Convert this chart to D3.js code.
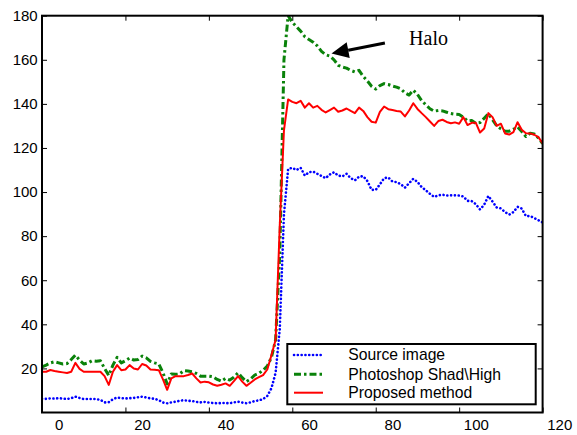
<!DOCTYPE html>
<html>
<head>
<meta charset="utf-8">
<script src="https://cdn.jsdelivr.net/npm/d3@7"></script>
<style>
  html, body { margin: 0; padding: 0; background: #fff; }
  svg { display: block; }
  text { font-family: "Liberation Sans", Arial, Helvetica, sans-serif; }
</style>
</head>
<body>
<svg id="chart" width="577" height="435"></svg>
<script>
// ---- data (x = sample index 0..120) ----
const seriesNames = ["Source image", "Photoshop Shad\\High", "Proposed method"];
const xTickValues = [0, 20, 40, 60, 80, 100, 120];
const yTickValues = [20, 40, 60, 80, 100, 120, 140, 160, 180];

const sourceImage = [
  6.2, 6.2, 6.4, 6.3, 6.5, 6.3, 6.1, 6.5, 7.2, 6.6,
  6.1, 6.1, 6.1, 6.1, 5.7, 4.6, 4.7, 6.0, 6.8, 6.5,
  6.4, 6.5, 6.6, 6.9, 7.2, 6.8, 6.4, 6.2, 5.6, 4.5,
  4.2, 4.6, 4.9, 5.3, 5.6, 5.3, 5.2, 4.8, 4.6, 4.8,
  4.5, 4.3, 4.2, 4.3, 4.3, 4.2, 4.6, 4.9, 4.5, 4.2,
  4.6, 5.2, 5.5, 6.1, 7.5, 11, 18, 38, 90, 110.5,
  111, 110, 111, 107.5, 109, 109.3, 108.3, 107.3, 106.3, 108,
  109, 107.5, 107.1, 108.3, 106.3, 105.3, 107, 107.2, 105, 101,
  101, 103.5, 106.3, 106.6, 104.8, 104.5, 103.6, 102, 104, 106,
  104.6, 102.3, 100.8, 99.2, 97.8, 98.5, 98.8, 98.4, 98.5, 98.5,
  98.4, 98, 96, 95.9, 94.5, 92.1, 94.3, 98.2, 95.7, 93,
  92.6, 90.9, 89.8, 90.9, 93.3, 92.5, 89.1, 89.1, 88.2, 87.2,
  86.2
];
const photoshop = [
  20.7, 21.5, 22.5, 23, 22.5, 22, 22.2, 24, 26, 23.8,
  22, 22.5, 23.5, 23.3, 23.5, 20, 16.8, 21.5, 25, 22.5,
  23.5, 24.7, 23.8, 24, 25.6, 24.8, 23.2, 22.5, 22, 18,
  13, 17.5, 17.3, 17.5, 19, 18.8, 18.5, 17.7, 16.5, 16.5,
  16.5, 16.2, 15, 14.2, 15.5, 14.7, 16, 18, 15.8, 14,
  15.2, 17, 17.8, 19.2, 21, 25, 33, 72, 160, 180,
  177, 175, 173, 170.5, 169.2, 168, 166.3, 163.8, 162.3, 161.7,
  160, 157.5, 156.7, 156.2, 155.2, 154.5, 155.2, 152.5, 150.4, 148,
  146.7, 148.3, 149.2, 148.8, 148.1, 147.6, 146.8, 145, 144, 146.2,
  144.3, 141.5, 139.6, 137.8, 136.7, 137, 136.8, 136.2, 135.6, 135.3,
  135.2, 134, 132.3, 132.5, 131.2, 131.5, 133.5, 135.5, 132.8, 130,
  128.7, 127.6, 127.6, 128.5, 129.5, 127.5, 125.2, 126.7, 126.4, 124.5,
  122
];
const proposed = [
  18.5, 18.5, 19.3, 18.8, 18.5, 18.2, 17.9, 18.5, 22.5, 19.8,
  18.5, 18.5, 18.5, 18.5, 18.5, 16.5, 12.5, 18.5, 21.5, 19.2,
  19.5, 21.5, 20, 19.5, 22, 21.3, 19.5, 19.4, 19.2, 15,
  10.3, 15.5, 16.5, 16.5, 16.5, 17, 17.7, 15.5, 13.6, 14,
  13.7, 12.7, 12.1, 12.6, 13.2, 12.1, 14.2, 16.5, 14, 12.1,
  13.5, 15, 16, 17, 19.5, 26, 33, 85, 128, 142,
  140.9, 140.3, 141.4, 138.3, 140.3, 138.3, 139.1, 137.3, 136.1, 137.2,
  138.3, 136.4, 137, 137.9, 136.8, 135.8, 138.3, 136.8, 134, 131.9,
  131.5, 136.4, 138.8, 137.6, 137.2, 136.8, 136.5, 134.3, 137, 140.3,
  137.7, 135.8, 134, 132, 130, 132.2, 132.8, 131.8, 131.2, 131.6,
  131, 134, 130.4, 131.4, 131.4, 127, 128.8, 135.8, 134, 130,
  131, 126.6, 126.1, 127.2, 131.7, 128.3, 126.7, 126.6, 126, 124.9,
  122
];

// annotation (data coordinates)
const haloText = "Halo";
const haloAt = [88, 166.7];
const arrowFrom = [82.2, 167.6];
const arrowTo = [69.4, 162.9];

// ---- layout ----
const svg = d3.select("#chart");
const L = 42, R = 542.6, T = 15.7, B = 412.5;
const x = d3.scaleLinear().domain([0, 120]).range([L, R]);
const y = d3.scaleLinear().domain([0, 180]).range([B, T]);

const styles = [
  { color: "#0000ff", width: 2.6, dash: "0.1 3.7", cap: "round" },
  { color: "#0a820a", width: 3, dash: "7 3 2.5 3", cap: "butt" },
  { color: "#ff0000", width: 2, dash: null, cap: "butt" }
];
const allSeries = [sourceImage, photoshop, proposed];

svg.append("defs").append("clipPath").attr("id", "clip")
  .append("rect").attr("x", L).attr("y", T).attr("width", R - L).attr("height", B - T);

const line = d3.line().x((d, i) => x(i)).y(d => y(d));
const plot = svg.append("g").attr("clip-path", "url(#clip)");
allSeries.forEach((s, k) => {
  const st = styles[k];
  plot.append("path").datum(s)
    .attr("d", line)
    .attr("fill", "none")
    .attr("stroke", st.color)
    .attr("stroke-width", st.width)
    .attr("stroke-linecap", st.cap)
    .attr("stroke-linejoin", "round")
    .attr("stroke-dasharray", st.dash);
});

// ---- axes ----
const axB = svg.append("g").attr("transform", `translate(0,${B})`)
  .call(d3.axisBottom(x).tickValues(xTickValues).tickSizeInner(-5).tickSizeOuter(0).tickPadding(7));
axB.selectAll("text").attr("dx", 16.7);
const axL = svg.append("g").attr("transform", `translate(${L},0)`)
  .call(d3.axisLeft(y).tickValues(yTickValues).tickSizeInner(-5).tickSizeOuter(0).tickPadding(4.3));
svg.append("g").attr("transform", `translate(0,${T})`)
  .call(d3.axisTop(x).tickValues(xTickValues).tickSizeInner(-5).tickSizeOuter(0).tickFormat(""));
svg.append("g").attr("transform", `translate(${R},0)`)
  .call(d3.axisRight(y).tickValues(yTickValues).tickSizeInner(-5).tickSizeOuter(0).tickFormat(""));

svg.selectAll(".domain").remove();
svg.selectAll(".tick line").attr("stroke", "#000").attr("stroke-width", 1);
svg.selectAll(".tick text")
  .attr("fill", "#000")
  .style("font-family", '"Liberation Sans", Arial, Helvetica, sans-serif')
  .style("font-size", "15px");

svg.append("rect").attr("x", L).attr("y", T).attr("width", R - L).attr("height", B - T)
  .attr("fill", "none").attr("stroke", "#000").attr("stroke-width", 2);

// ---- annotation ----
const ax0 = x(arrowFrom[0]), ay0 = y(arrowFrom[1]);
const ax1 = x(arrowTo[0]), ay1 = y(arrowTo[1]);
const ang = Math.atan2(ay1 - ay0, ax1 - ax0);
const headLen = 17, headHalf = 8;
const bx = ax1 - headLen * Math.cos(ang), by = ay1 - headLen * Math.sin(ang);
svg.append("line")
  .attr("x1", ax0).attr("y1", ay0).attr("x2", bx).attr("y2", by)
  .attr("stroke", "#000").attr("stroke-width", 3);
svg.append("path")
  .attr("d", `M${ax1},${ay1} L${bx + headHalf * Math.sin(ang)},${by - headHalf * Math.cos(ang)} L${bx - headHalf * Math.sin(ang)},${by + headHalf * Math.cos(ang)} Z`)
  .attr("fill", "#000");
svg.append("text")
  .attr("x", x(haloAt[0])).attr("y", y(haloAt[1]))
  .style("font-family", '"Liberation Serif", "Times New Roman", serif')
  .style("font-size", "20px")
  .attr("fill", "#000")
  .text(haloText);

// ---- legend ----
const lg = svg.append("g");
lg.append("rect").attr("x", 287.3).attr("y", 344).attr("width", 248.4).attr("height", 60.3)
  .attr("fill", "#fff").attr("stroke", "#000").attr("stroke-width", 2);
const rowY = [355, 374.3, 392.7];
seriesNames.forEach((name, k) => {
  const st = styles[k];
  lg.append("line")
    .attr("x1", 294).attr("x2", 323).attr("y1", rowY[k]).attr("y2", rowY[k])
    .attr("stroke", st.color).attr("stroke-width", st.width)
    .attr("stroke-linecap", st.cap).attr("stroke-dasharray", st.dash);
  lg.append("text")
    .attr("x", 348.3).attr("y", rowY[k]).attr("dy", "0.35em")
    .style("font-size", "15.7px").attr("fill", "#000")
    .text(name);
});
</script>
</body>
</html>
